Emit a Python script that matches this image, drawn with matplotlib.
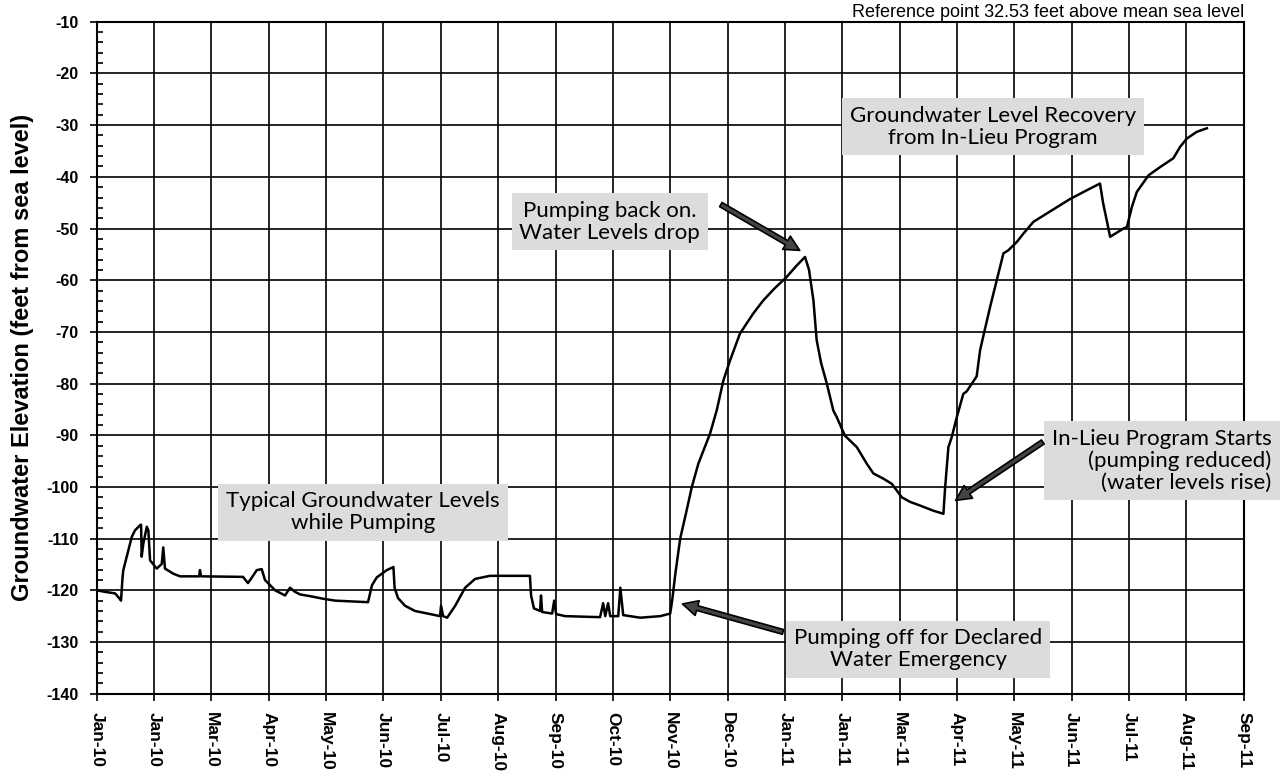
import matplotlib
matplotlib.use('Agg')
import matplotlib.pyplot as plt
import numpy as np

# x axis: days since first tick, ticks every 30 days
tick_labels = ['Jan-10', 'Jan-10', 'Mar-10', 'Apr-10', 'May-10', 'Jun-10', 'Jul-10',
               'Aug-10', 'Sep-10', 'Oct-10', 'Nov-10', 'Dec-10', 'Jan-11', 'Jan-11',
               'Mar-11', 'Apr-11', 'May-11', 'Jun-11', 'Jul-11', 'Aug-11', 'Sep-11']

days = [0, 4.3, 9.6, 11.7, 12.7, 13.5, 13.9, 15.7, 18.3, 20.0, 22.7, 23.2, 23.5, 24.4,
        26.2, 27.0, 27.9, 31.4, 34.0, 34.8, 35.7, 40.1, 43.6, 53.5, 54.0, 54.6, 76.5,
        79.1, 81.2, 83.7, 86.3, 88.0, 93.3, 98.5, 101.1, 103.7, 106.4, 112.6, 117.9,
        124.7, 141.9, 144.0, 146.5, 151.7, 155.2, 155.8, 157.6, 161.3, 166.5, 174.3,
        179.6, 180.1, 181.2, 183.3, 187.5, 192.7, 197.9, 205.7, 226.6, 227.2, 228.7,
        231.9, 232.4, 233.0, 238.2, 239.3, 240.3, 245.0, 263.3, 264.9, 266.0, 267.5,
        268.6, 272.8, 273.9, 275.4, 284.3, 294.8, 300.0, 301.0, 302.6, 305.2, 308.3,
        311.3, 314.7, 320.8, 324.3, 327.8, 331.3, 336.5, 343.5, 348.7, 354.8, 360.6,
        365.8, 370.5, 372.6, 374.9, 376.6, 378.9, 381.9, 385.3, 387.1, 391.4, 397.6,
        402.8, 406.3, 411.5, 415.9, 421.1, 425.5, 430.7, 437.6, 442.9, 443.7, 445.5,
        447.3, 449.9, 453.3, 455.1, 460.3, 462.1, 467.3, 470.8, 474.3, 476.9, 481.3,
        484.7, 490.0, 500.4, 509.1, 517.9, 524.8, 526.4, 530.1, 537.1, 538.9, 541.5,
        544.1, 550.2, 556.3, 563.2, 566.7, 570.2, 575.4, 580.7]

level = [-120.0, -120.3, -120.6, -121.5, -122.0, -117.5, -116.1, -113.5, -109.7, -108.4,
         -107.4, -107.3, -113.5, -110.9, -107.7, -108.4, -114.2, -115.8, -114.9, -111.7,
         -115.8, -116.8, -117.3, -117.3, -116.1, -117.3, -117.4, -118.6, -117.5, -116.1,
         -115.9, -118.0, -120.0, -121.0, -119.5, -120.3, -120.8, -121.2, -121.6, -122.0,
         -122.3, -119.0, -117.5, -116.1, -115.5, -119.5, -121.5, -123.0, -124.0, -124.6,
         -125.0, -123.0, -125.0, -125.3, -123.0, -119.5, -117.8, -117.2, -117.2, -121.0,
         -123.5, -124.0, -121.0, -124.2, -124.5, -122.0, -124.6, -125.0, -125.2, -122.5,
         -125.0, -122.5, -125.0, -125.0, -119.5, -124.8, -125.3, -125.0, -124.5, -122.0,
         -117.0, -110.0, -105.0, -100.0, -95.5, -89.7, -85.2, -79.4, -75.5, -70.3, -66.4,
         -63.9, -61.5, -59.5, -57.3, -55.5, -58.0, -63.9, -71.6, -76.0, -80.0, -85.2,
         -86.5, -90.1, -92.3, -95.5, -97.4, -98.4, -99.4, -102.0, -102.9, -103.6, -104.6,
         -105.2, -100.6, -92.3, -90.3, -86.5, -82.0, -81.5, -78.6, -73.5, -65.2, -60.0,
         -54.8, -54.2, -52.6, -51.0, -48.7, -46.3, -44.3, -42.6, -41.3, -45.0, -51.6,
         -50.0, -49.7, -45.8, -42.9, -39.7, -38.1, -36.4, -34.2, -32.6, -31.3, -30.6]

box_color = '#dcdcdc'
note_font = ['Lato', 'DejaVu Sans']
note_size = 16

fig = plt.figure(figsize=(12.83, 7.78), dpi=100)
ax = fig.add_axes([0.0754, 0.1084, 0.894, 0.8636])

ax.plot(days, level, color='black', lw=1.8, zorder=3)

ax.set_xlim(0, 600)
ax.set_ylim(-140, -10)
ax.set_xticks(np.arange(0, 601, 30))
ax.set_xticklabels(tick_labels, rotation=-90, fontweight='bold', fontsize=12.5,
                   family='Liberation Sans')
ax.set_yticks(np.arange(-140, -9, 10))
ax.set_yticklabels([str(v) for v in range(-140, -9, 10)], fontweight='bold',
                   fontsize=11.5, family='Liberation Sans')
ax.set_yticks(np.arange(-140, -9, 2), minor=True)
ax.tick_params(axis='y', which='minor', direction='in', length=4, width=1.2)
ax.tick_params(axis='both', which='major', direction='out', length=5, width=1.2)
ax.tick_params(axis='y', which='major', pad=8)
ax.tick_params(axis='x', which='major', pad=8)
ax.grid(True, which='major', color='black', lw=1.2)
ax.set_axisbelow(True)
for s in ax.spines.values():
    s.set_linewidth(1.5)

ax.set_ylabel('Groundwater Elevation (feet from sea level)', fontsize=17,
              fontweight='bold', family='Liberation Sans')
ax.yaxis.set_label_coords(-0.0547, 0.5)

fig.text(0.970, 0.973, 'Reference point 32.53 feet above mean sea level',
         ha='right', va='bottom', fontsize=13, family='Liberation Sans')

bbox = dict(boxstyle='square,pad=0.35', fc=box_color, ec='none')
arrow = dict(arrowstyle='simple,head_width=1.1,head_length=1.1,tail_width=0.35',
             fc='#444444', ec='black', lw=1.2)

ax.text(139.3, -104.9, 'Typical Groundwater Levels\nwhile Pumping', ha='center',
        va='center', fontsize=note_size, family=note_font, bbox=bbox, zorder=4,
        multialignment='center', linespacing=1.1)

ax.text(315.6, -48.7, 'Pumping back on.\nWater Levels drop', ha='right',
        va='center', fontsize=note_size, family=note_font, bbox=bbox, zorder=4,
        multialignment='center', linespacing=1.1)
ax.annotate('', xy=(369.0, -54.5), xytext=(325.2, -45.1), arrowprops=arrow, zorder=5)

ax.text(468.8, -30.3, 'Groundwater Level Recovery\nfrom In-Lieu Program', ha='center',
        va='center', fontsize=note_size, family=note_font, bbox=bbox, zorder=4,
        multialignment='center', linespacing=1.1)

ax.text(429.7, -131.4, 'Pumping off for Declared\nWater Emergency', ha='center',
        va='center', fontsize=note_size, family=note_font, bbox=bbox, zorder=4,
        multialignment='center', linespacing=1.1)
ax.annotate('', xy=(305.0, -122.5), xytext=(360.4, -128.2), arrowprops=arrow, zorder=5)

ax.text(499.7, -94.9, 'In-Lieu Program Starts\n(pumping reduced)\n(water levels rise)',
        ha='left', va='center', fontsize=note_size, family=note_font, bbox=bbox,
        zorder=4, multialignment='right', linespacing=1.1, clip_on=False)
ax.annotate('', xy=(448.1, -102.9), xytext=(496.1, -91.0), arrowprops=arrow, zorder=5)

fig.savefig('out.png', dpi=100)
